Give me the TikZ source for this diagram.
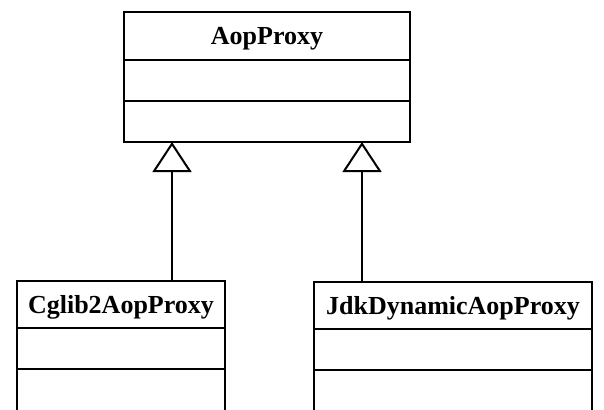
\documentclass[tikz,border=0pt]{standalone}
\usepackage{fontspec}
\setmainfont{Liberation Serif}
\usetikzlibrary{positioning,arrows.meta}

\begin{document}
\begin{tikzpicture}[x=1pt,y=-1pt,
  cls/.style={draw,line width=2pt,outer sep=0pt,inner sep=0pt,minimum width=#1,minimum height=47pt,
    text depth=0pt,font=\fontsize{26}{30}\selectfont\bfseries},
  part/.style={draw,line width=2pt,outer sep=0pt,inner sep=0pt,minimum width=#1,minimum height=41pt},
  inherit/.style={line width=1.6pt,-{Triangle[open,length=30pt,width=39pt,line width=2pt]}}]
\useasboundingbox (0,0) rectangle (604,409);
\clip (0,0) rectangle (604,409);

% the super class
\node[cls=286pt,minimum height=48pt] (aop) at (267,36) {AopProxy};
\node[part=286pt,below=0pt of aop] (aop-attr) {};
\node[part=286pt,below=0pt of aop-attr] (aop-ops) {};

% the two sub classes (cut off at the bottom)
\node[cls=208pt] (cglib) at (121,304.5) {Cglib2AopProxy};
\node[part=208pt,below=0pt of cglib] (cglib-attr) {};
\node[part=208pt,minimum height=46pt,below=0pt of cglib-attr] (cglib-ops) {};

\node[cls=278pt] (jdk) at (453,305.5) {JdkDynamicAopProxy};
\node[part=278pt,below=0pt of jdk] (jdk-attr) {};
\node[part=278pt,minimum height=46pt,below=0pt of jdk-attr] (jdk-ops) {};

% generalisation arrows
\coordinate (tipL) at (172,142);
\coordinate (tipR) at (362,142);
\draw[inherit] (cglib.north -| tipL) -- (tipL);
\draw[inherit] (jdk.north -| tipR) -- (tipR);
\end{tikzpicture}
\end{document}
